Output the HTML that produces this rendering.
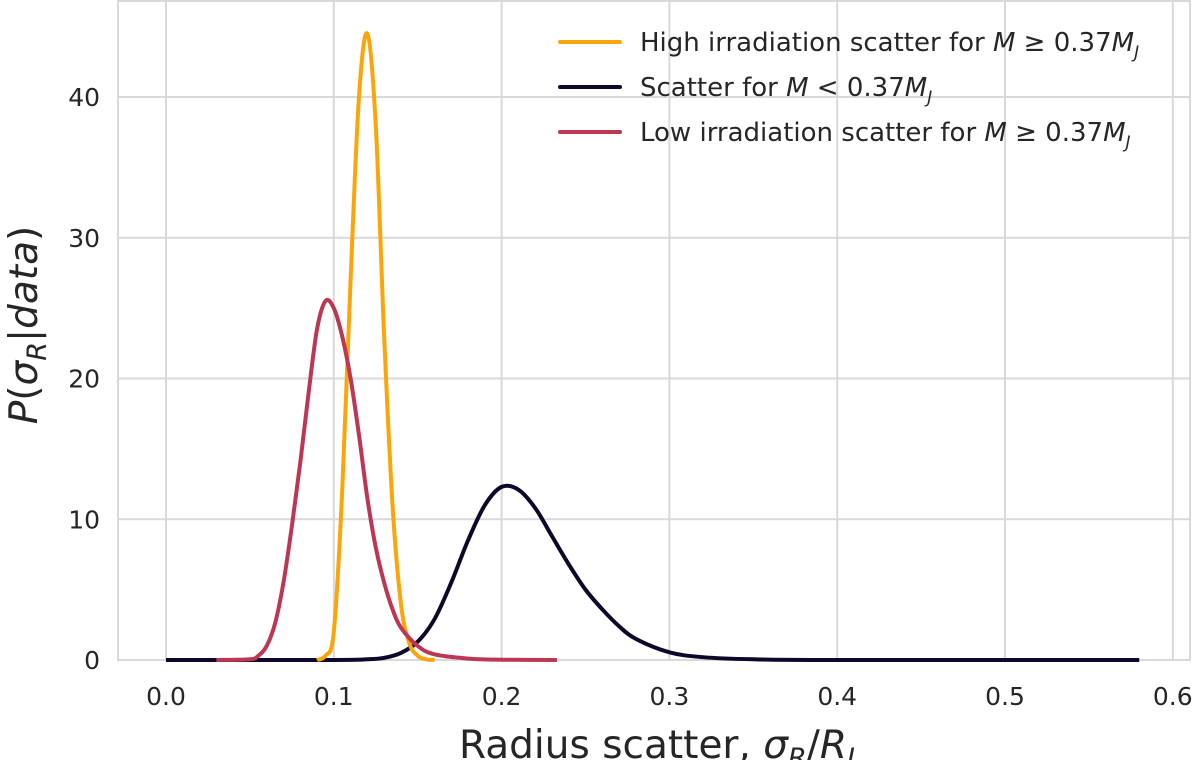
<!DOCTYPE html>
<html><head><meta charset="utf-8"><style>
body{margin:0;background:#fff;}
text{font-family:"DejaVu Sans","Liberation Sans",sans-serif;fill:#262626;}
</style></head><body>
<svg id="chart" width="1200" height="760" xmlns="http://www.w3.org/2000/svg">
<rect x="118" y="1" width="1072" height="659" fill="#fff" stroke="#d9d9d9" stroke-width="2"/>
<g id="grid"></g><g id="ticks"></g><g id="lines"></g>
<text x="0" y="0" transform="translate(37,325) rotate(-90)" text-anchor="middle" font-size="39"><tspan font-style="italic">P</tspan>(<tspan font-style="italic">σ</tspan><tspan font-style="italic" font-size="27" dy="9">R</tspan><tspan dy="-9">|</tspan><tspan font-style="italic">data</tspan>)</text>
<text x="657" y="758" text-anchor="middle" font-size="39">Radius scatter, <tspan font-style="italic">σ</tspan><tspan font-style="italic" font-size="27" dy="9">R</tspan><tspan dy="-9">/</tspan><tspan font-style="italic">R</tspan><tspan font-style="italic" font-size="27" dy="9">J</tspan></text>
<g font-size="26">
<line x1="560" y1="42" x2="620" y2="42" stroke="#fca50a" stroke-width="4" stroke-linecap="round"/>
<text x="640" y="51">High irradiation scatter for <tspan font-style="italic">M</tspan> ≥ 0.37<tspan font-style="italic">M</tspan><tspan font-style="italic" font-size="17" dy="7">J</tspan></text>
<line x1="560" y1="87" x2="620" y2="87" stroke="#0d0829" stroke-width="4" stroke-linecap="round"/>
<text x="640" y="96">Scatter for <tspan font-style="italic">M</tspan> &lt; 0.37<tspan font-style="italic">M</tspan><tspan font-style="italic" font-size="17" dy="7">J</tspan></text>
<line x1="560" y1="132" x2="620" y2="132" stroke="#bc3754" stroke-width="4" stroke-linecap="round"/>
<text x="640" y="141">Low irradiation scatter for <tspan font-style="italic">M</tspan> ≥ 0.37<tspan font-style="italic">M</tspan><tspan font-style="italic" font-size="17" dy="7">J</tspan></text>
</g>
</svg>
<script>
const xTicks=[0,0.1,0.2,0.3,0.4,0.5,0.6];
const xTickLabels=["0.0","0.1","0.2","0.3","0.4","0.5","0.6"];
const yTicks=[0,10,20,30,40];
const yTickLabels=["0","10","20","30","40"];
const highX=[0.09,0.095,0.1,0.105,0.11,0.115,0.12,0.125,0.13,0.135,0.14,0.145,0.15,0.155,0.16];
const highY=[0,0.3,2,12,27,40,44.5,38,23,11,4,1.2,0.3,0.05,0];
const lowMassX=[0,0.1,0.12,0.13,0.14,0.15,0.16,0.17,0.18,0.19,0.2,0.21,0.22,0.23,0.24,0.25,0.26,0.27,0.28,0.3,0.32,0.35,0.4,0.58];
const lowMassY=[0,0,0.05,0.15,0.5,1.3,2.9,5.5,8.5,11,12.3,12.1,10.8,8.8,6.8,5,3.6,2.4,1.5,0.55,0.2,0.05,0,0];
const lowX=[0.03,0.05,0.055,0.06,0.065,0.07,0.075,0.08,0.085,0.09,0.095,0.1,0.105,0.11,0.115,0.12,0.125,0.13,0.135,0.14,0.15,0.16,0.18,0.2,0.233];
const lowY=[0,0.05,0.3,1,2.6,5.5,9.5,14,19,23.5,25.5,25,23,20,16,11.5,8,5.5,3.6,2.3,1,0.4,0.1,0.02,0];
const X=v=>166+v*1678, Y=v=>660-v*14.075;
const NS="http://www.w3.org/2000/svg";
function mk(t,a,p){const e=document.createElementNS(NS,t);for(const k in a)e.setAttribute(k,a[k]);p.appendChild(e);return e;}
const grid=document.getElementById('grid'),ticks=document.getElementById('ticks'),lines=document.getElementById('lines');
xTicks.forEach((v,i)=>{
 const g=mk('line',{x1:X(v),x2:X(v),y1:1,y2:660,stroke:'#d9d9d9','stroke-width':2},grid);
 
 
 const t=mk('text',{x:X(v),y:705,'text-anchor':'middle','font-size':25},ticks);t.textContent=xTickLabels[i];
 
 
});
yTicks.forEach((v,i)=>{
 const g=mk('line',{x1:118,x2:1190,y1:Y(v),y2:Y(v),stroke:'#d9d9d9','stroke-width':2},grid);
 
 
 const t=mk('text',{x:100,y:Y(v)+9,'text-anchor':'end','font-size':25},ticks);t.textContent=yTickLabels[i];
 
 
});
function path(xs,ys){
 const p=xs.map((x,i)=>[X(x),Y(ys[i])]);let d=`M${p[0][0]},${p[0][1]}`;
 for(let i=0;i<p.length-1;i++){const p0=p[Math.max(0,i-1)],p1=p[i],p2=p[i+1],p3=p[Math.min(p.length-1,i+2)];
  let c1y=p1[1]+(p2[1]-p0[1])/6,c2y=p2[1]-(p3[1]-p1[1])/6;c1y=Math.min(c1y,660);c2y=Math.min(c2y,660);
  d+=` C${p1[0]+(p2[0]-p0[0])/6},${c1y} ${p2[0]-(p3[0]-p1[0])/6},${c2y} ${p2[0]},${p2[1]}`;}
 return d;}
const l1=mk('path',{d:path(lowMassX,lowMassY),fill:'none',stroke:'#0d0829','stroke-width':4},lines);


const l2=mk('path',{d:path(highX,highY),fill:'none',stroke:'#fca50a','stroke-width':4},lines);


const l3=mk('path',{d:path(lowX,lowY),fill:'none',stroke:'#bc3754','stroke-width':4},lines);


</script>
</body></html>
